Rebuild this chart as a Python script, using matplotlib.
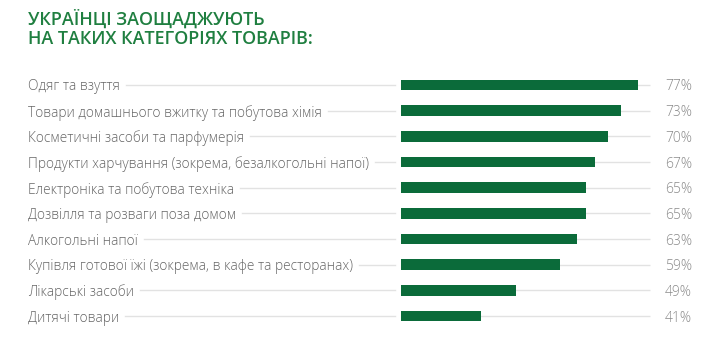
"""
Horizontal bar chart: categories of goods Ukrainians save on.
"""

import matplotlib
matplotlib.use("Agg")
import matplotlib.pyplot as plt
from matplotlib.transforms import blended_transform_factory
from matplotlib.lines import Line2D

TITLE = "УКРАЇНЦІ ЗАОЩАДЖУЮТЬ\nНА ТАКИХ КАТЕГОРІЯХ ТОВАРІВ:"

categories = [
    "Одяг та взуття",
    "Товари домашнього вжитку та побутова хімія",
    "Косметичні засоби та парфумерія",
    "Продукти харчування (зокрема, безалкогольні напої)",
    "Електроніка та побутова техніка",
    "Дозвілля та розваги поза домом",
    "Алкогольні напої",
    "Купівля готової їжі (зокрема, в кафе та ресторанах)",
    "Лікарські засоби",
    "Дитячі товари",
]
shares = [77, 73, 70, 67, 65, 65, 63, 59, 49, 41]

GREEN = "#0b6b3a"
TITLE_GREEN = "#1f7f40"
GRID = "#e2e2e2"
TEXT = "#666666"

W, H = 716, 345
fig = plt.figure(figsize=(W / 100, H / 100), dpi=100)
plt.rcParams["font.family"] = ["Open Sans", "DejaVu Sans"]

# bar axes: value axis starts above zero, bars are clipped at the left edge
ax_left, ax_right = 401, 716
row_top, row_step = 85, 25.67
n = len(categories)
top_px = row_top - row_step / 2
bot_px = row_top + row_step * (n - 1) + row_step / 2
ax = fig.add_axes([ax_left / W, 1 - bot_px / H,
                   (ax_right - ax_left) / W, (bot_px - top_px) / H])
xmin = 22.8
px_per_pct = 4.38
xmax = xmin + (ax_right - ax_left) / px_per_pct
ax.set_xlim(xmin, xmax)
ax.set_ylim(n - 0.5, -0.5)
ax.axis("off")

ys = list(range(n))
ax.barh(ys, shares, height=0.42, color=GREEN, zorder=3)

line_end = xmin + (650 - ax_left) / px_per_pct
for y in ys:
    ax.plot([xmin, line_end], [y, y], color=GRID, lw=1, zorder=1,
            solid_capstyle="butt")

trans = blended_transform_factory(fig.transFigure, ax.transData)
labels = []
for y, cat, v in zip(ys, categories, shares):
    t = ax.text(28 / W, y, cat, transform=trans, ha="left",
                va="center_baseline", fontsize=9.9, color=TEXT,
                fontweight="light")
    labels.append(t)
    ax.text(665 / W, y, f"{v}%", transform=trans, ha="left",
            va="center_baseline", fontsize=10, color="#8a8a8a",
            fontweight="light")

fig.text(28 / W, 1 - 9 / H, TITLE, ha="left", va="top", fontsize=12.9,
         fontweight="semibold", color=TITLE_GREEN, linespacing=1.15)

# leader lines from the end of each label to the bar start
fig.canvas.draw()
renderer = fig.canvas.get_renderer()
for y, t in zip(ys, labels):
    bb = t.get_window_extent(renderer)
    ypix = ax.transData.transform((xmin, y))[1]
    fig.add_artist(Line2D([(bb.x1 + 6) / W, 395 / W], [ypix / H, ypix / H],
                          transform=fig.transFigure, color=GRID, lw=1))

fig.savefig("out.png", dpi=100)
